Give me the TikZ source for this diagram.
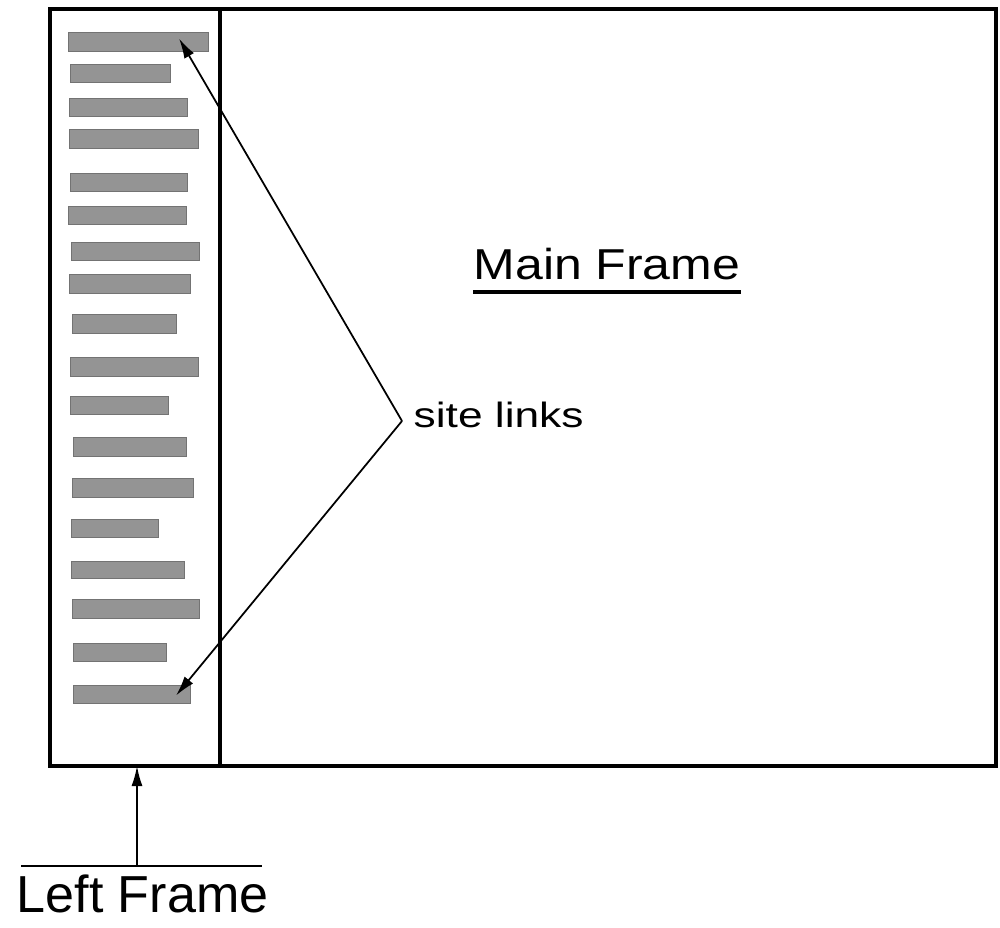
\documentclass[tikz,border=0pt]{standalone}
\usepackage{fontspec}
\setmainfont{Liberation Sans}
\usetikzlibrary{arrows.meta,calc}

\begin{document}
\begin{tikzpicture}[x=0.01cm,y=-0.01cm,
  frameline/.style={black,line width=0.9pt},
  linkbar/.style={draw=black!55,fill=black!42,line width=0.3pt,inner sep=0pt,anchor=north west},
  pointer/.style={black,line width=0.5pt,-{Latex[length=2mm,width=1.1mm]}}]
\useasboundingbox (0,0) rectangle (1000,927);
\coordinate (fnw) at (50,9);
\coordinate (fse) at (996,766);
\draw[frameline] (fnw) rectangle (fse);
\draw[black,line width=1.3pt] (220,9) -- (220,766);
\foreach \i/\xa/\ya/\xb/\yb in {1/68/32/208/51,2/70/64/170/82,3/69/98/187/116,4/69/129/198/148,
  5/70/173/187/191,6/68/206/186/224,7/71/242/199/260,8/69/274/190/293,9/72/314/176/333,
  10/70/357/198/376,11/70/396/168/414,12/73/437/186/456,13/72/478/193/497,14/71/519/158/537,
  15/71/561/184/578,16/72/599/199/618,17/73/643/166/661,18/73/685/190/703}
  \node[linkbar,minimum width={(\xb-\xa)*0.01cm},minimum height={(\yb-\ya)*0.01cm}] (bar\i) at (\xa,\ya) {};
\node[anchor=base west,inner sep=0pt,font=\fontsize{12.3}{14}\selectfont] (mainLbl) at (473,279) {\scalebox{1.155}[1]{Main Frame}};
\draw[black,line width=0.9pt] ([yshift=-0.13cm]mainLbl.base west) -- ([yshift=-0.13cm]mainLbl.base east);
\coordinate (apex) at (402,421);
\node[anchor=base west,inner sep=0pt,font=\fontsize{10}{12}\selectfont] (linksLbl) at (413,427) {\scalebox{1.26}[1]{site links}};
\draw[pointer] (apex) -- ($(bar1.east)+(-30,-3.5)$);
\draw[pointer] (apex) -- ($(bar18.east)+(-15,1)$);
\coordinate (lfoot) at (137,866);
\draw[black,line width=0.6pt] (21,866) -- (262,866);
\draw[pointer] (lfoot) -- (lfoot |- fse);
\node[anchor=base west,inner sep=0pt,font=\fontsize{14.8}{17}\selectfont] (leftLbl) at (16,912) {Left Frame};
\end{tikzpicture}
\end{document}
